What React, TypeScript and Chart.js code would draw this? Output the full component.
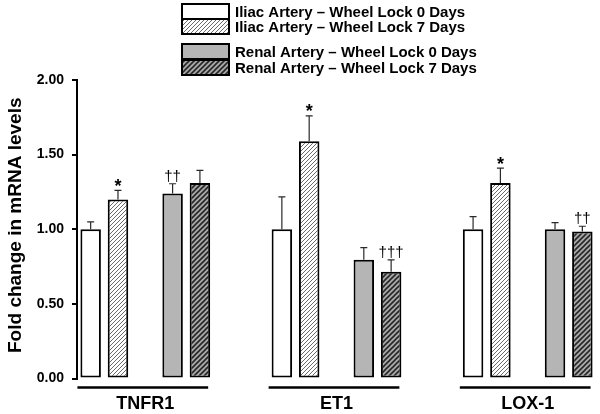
import React, { useEffect, useRef } from "react";
import { Chart, registerables } from "chart.js";

Chart.register(...registerables);

const FONT = '"Liberation Sans", Arial, Helvetica, sans-serif';

// Genes (groups on the x axis)
const genes = ["TNFR1", "ET1", "LOX-1"];

// Series names (legend)
const seriesNames = [
  "Iliac Artery \u2013 Wheel Lock 0 Days",
  "Iliac Artery \u2013 Wheel Lock 7 Days",
  "Renal Artery \u2013 Wheel Lock 0 Days",
  "Renal Artery \u2013 Wheel Lock 7 Days",
];

// Mean fold change per series, in gene order
const iliac0 = [1.0, 1.0, 1.0];
const iliac7 = [1.2, 1.59, 1.31];
const renal0 = [1.24, 0.795, 1.0];
const renal7 = [1.31, 0.715, 0.985];

// Upper error (SEM) per series
const iliac0Err = [0.05, 0.217, 0.085];
const iliac7Err = [0.06, 0.17, 0.1];
const renal0Err = [0.065, 0.082, 0.045];
const renal7Err = [0.085, 0.08, 0.035];

// Significance marks per series
const iliac0Marks = ["", "", ""];
const iliac7Marks = ["*", "*", "*"];
const renal0Marks = ["\u2020\u2020", "", ""];
const renal7Marks = ["", "\u2020\u2020\u2020", "\u2020\u2020"];

// Y axis ticks
const yTicks = [0, 0.5, 1.0, 1.5, 2.0];
const yTitle = "Fold change in mRNA levels";

// slot layout: each gene has 5 slots (bar, bar, empty, bar, bar) then 2 empty gap slots
const seriesSlot = [0, 1, 3, 4];
const SLOTS_PER_GROUP = 7;
const GROUP_SLOTS_USED = 5;

function makeHatch(bg: string, fg: string, lw: number, size: number) {
  const c = document.createElement("canvas");
  c.width = size;
  c.height = size;
  const x = c.getContext("2d")!;
  x.fillStyle = bg;
  x.fillRect(0, 0, size, size);
  x.strokeStyle = fg;
  x.lineWidth = lw;
  x.beginPath();
  x.moveTo(0, size);
  x.lineTo(size, 0);
  x.moveTo(-size / 2, size / 2);
  x.lineTo(size / 2, -size / 2);
  x.moveTo(size / 2, size * 1.5);
  x.lineTo(size * 1.5, size / 2);
  x.stroke();
  const tmp = document.createElement("canvas").getContext("2d")!;
  return tmp.createPattern(c, "repeat")!;
}

export default function App() {
  const ref = useRef<HTMLCanvasElement | null>(null);

  useEffect(() => {
    const canvas = ref.current!;
    const values = [iliac0, iliac7, renal0, renal7];
    const errs = [iliac0Err, iliac7Err, renal0Err, renal7Err];
    const marks = [iliac0Marks, iliac7Marks, renal0Marks, renal7Marks];

    const fills: any[] = [
      "#ffffff",
      makeHatch("#ffffff", "#6a6a6a", 1, 4),
      "#b5b5b5",
      makeHatch("#a9a9a9", "#262626", 1.6, 5),
    ];

    const nSlots = genes.length * SLOTS_PER_GROUP - (SLOTS_PER_GROUP - GROUP_SLOTS_USED);
    const labels: string[] = [];
    for (let i = 0; i < nSlots; i++) {
      const g = Math.floor(i / SLOTS_PER_GROUP);
      labels.push(genes[g] + "-" + (i % SLOTS_PER_GROUP));
    }

    const datasets = values.map((vals, s) => {
      const data: (number | null)[] = new Array(nSlots).fill(null);
      vals.forEach((v, g) => {
        data[g * SLOTS_PER_GROUP + seriesSlot[s]] = v;
      });
      return {
        label: seriesNames[s],
        data,
        backgroundColor: fills[s],
        borderColor: "#000",
        borderWidth: 2,
        borderSkipped: false as any,
        grouped: false,
        categoryPercentage: 1,
        barPercentage: 0.75,
      };
    });

    const overlay = {
      id: "overlay",
      afterDatasetsDraw(chart: any) {
        const ctx = chart.ctx as CanvasRenderingContext2D;
        const ys = chart.scales.y;
        ctx.save();
        // error bars + marks
        values.forEach((vals, s) => {
          const meta = chart.getDatasetMeta(s);
          vals.forEach((v, g) => {
            const el = meta.data[g * SLOTS_PER_GROUP + seriesSlot[s]];
            if (!el) return;
            const top = ys.getPixelForValue(v);
            const et = ys.getPixelForValue(v + errs[s][g]);
            ctx.strokeStyle = "#2a2a2a";
            ctx.lineWidth = 1.2;
            ctx.beginPath();
            ctx.moveTo(el.x, top);
            ctx.lineTo(el.x, et);
            ctx.moveTo(el.x - 3.5, et);
            ctx.lineTo(el.x + 3.5, et);
            ctx.stroke();
            const m = marks[s][g];
            if (m) {
              ctx.fillStyle = "#000";
              ctx.font = m === "*" ? `bold 18px ${FONT}` : `15px ${FONT}`;
              ctx.textAlign = "center";
              ctx.textBaseline = "alphabetic";
              const mm = ctx.measureText(m);
              const h = mm.actualBoundingBoxAscent + mm.actualBoundingBoxDescent;
              const cy = et - 8;
              const by = cy + h / 2 - mm.actualBoundingBoxDescent;
              ctx.fillText(m, el.x, by);
            }
          });
        });
        ctx.restore();
      },
      afterDraw(chart: any) {
        const ctx = chart.ctx as CanvasRenderingContext2D;
        const ca = chart.chartArea;
        ctx.save();
        // group underline + labels
        genes.forEach((gname, g) => {
          const m0 = chart.getDatasetMeta(0).data[g * SLOTS_PER_GROUP + seriesSlot[0]];
          const m3 = chart.getDatasetMeta(3).data[g * SLOTS_PER_GROUP + seriesSlot[3]];
          const left = m0.x - m0.width / 2;
          const right = m3.x + m3.width / 2;
          ctx.strokeStyle = "#000";
          ctx.lineWidth = 2.5;
          ctx.beginPath();
          ctx.moveTo(left - 3, ca.bottom + 9);
          ctx.lineTo(right - 2, ca.bottom + 9);
          ctx.stroke();
          ctx.fillStyle = "#000";
          ctx.font = `bold 18px ${FONT}`;
          ctx.textAlign = "center";
          ctx.textBaseline = "middle";
          ctx.fillText(gname, (left + right) / 2, ca.bottom + 26);
        });
        // y title
        ctx.save();
        ctx.translate(20.5, (ca.top + ca.bottom) / 2 - 4);
        ctx.rotate(-Math.PI / 2);
        ctx.font = `bold 19px ${FONT}`;
        ctx.textAlign = "center";
        ctx.textBaseline = "alphabetic";
        ctx.fillStyle = "#000";
        ctx.fillText(yTitle, 0, 0);
        ctx.restore();
        // legend
        const boxL = 182;
        const boxW = 47;
        const rows = [4, 19, 44, 60];
        const boxH = 15;
        seriesNames.forEach((name, s) => {
          ctx.fillStyle = fills[s];
          ctx.fillRect(boxL, rows[s], boxW, boxH);
          ctx.strokeStyle = "#000";
          ctx.lineWidth = 2;
          ctx.strokeRect(boxL, rows[s], boxW, boxH);
          ctx.fillStyle = "#000";
          ctx.font = `bold 15px ${FONT}`;
          ctx.textAlign = "left";
          ctx.textBaseline = "middle";
          ctx.fillText(name, 235, rows[s] + boxH / 2 + 1);
        });
        ctx.restore();
      },
    };

    const chart = new Chart(canvas, {
      type: "bar",
      data: { labels, datasets: datasets as any },
      options: {
        responsive: false,
        animation: false,
        layout: { padding: { top: 80, bottom: 35.5, left: 0, right: 4 } },
        plugins: { legend: { display: false }, tooltip: { enabled: false } },
        scales: {
          x: { display: false, offset: true },
          y: {
            min: 0,
            max: 2,
            afterFit: (s: any) => {
              s.width = 77;
            },
            afterBuildTicks: (s: any) => {
              s.ticks = yTicks.map((v) => ({ value: v }));
            },
            ticks: {
              callback: (v: any) => Number(v).toFixed(2),
              font: { family: FONT, size: 14, weight: "bold" },
              color: "#000",
              padding: 8,
            },
            grid: {
              drawOnChartArea: false,
              tickLength: 5,
              color: "#000",
              lineWidth: 2,
            },
            border: { color: "#000", width: 2 },
          },
        },
      },
      plugins: [overlay],
    });
    return () => chart.destroy();
  }, []);

  return (
    <div style={{ position: "fixed", left: 0, top: 0, width: 600, height: 414, background: "#fff" }}>
      <canvas ref={ref} width={600} height={414} style={{ display: "block" }} />
    </div>
  );
}
